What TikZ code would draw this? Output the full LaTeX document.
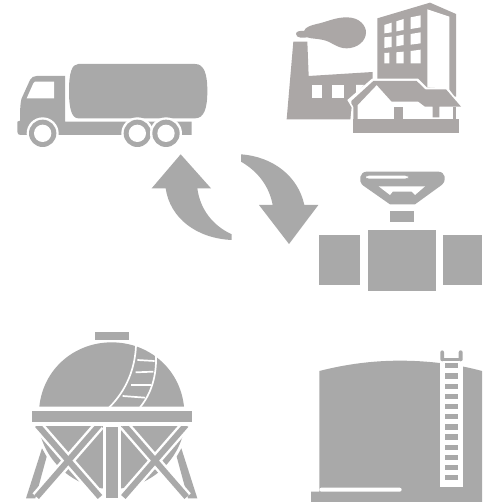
\documentclass[tikz,border=0pt]{standalone}
\definecolor{gr}{HTML}{A9A9A9}
\definecolor{fac}{HTML}{ABA7A6}
\tikzset{g/.style={fill=gr,draw=none},w/.style={fill=white,draw=none},f/.style={fill=fac,draw=none},
 zoom/.style={shift={#1},scale=0.33333}}
\begin{document}
\begin{tikzpicture}[x=1pt,y=-1pt]
\useasboundingbox (0,0) rectangle (482,502);
\fill[white] (0,0) rectangle (482,502);
% truck
\begin{scope}[zoom={(0,50)}]
\fill[g] (235,42) -- (585,42) .. controls (612,42) and (622,70) .. (622,123) .. controls (622,176) and (612,205) .. (585,205) -- (235,205) .. controls (215,205) and (207,176) .. (207,123) .. controls (207,70) and (215,42) .. (235,42) -- cycle;
\fill[g] (195,78) -- (110,78) .. controls (100,78) and (95,82) .. (90,90) -- (65,145) .. controls (60,160) and (60,190) .. (60,212) -- (52,215) -- (52,245) .. controls (52,252) and (56,255) .. (62,255) -- (575,255) -- (575,215) -- (195,215) -- cycle;
\fill[w] (105,95) -- (162,95) -- (162,145) -- (80,145) -- (100,100) -- cycle;
\foreach \c in {128,412,498}{
 \fill[w] (\c,250) circle (48);
 \fill[g] (\c,250) circle (41);
 \fill[w] (\c,250) circle (26);
}
\end{scope}
% factory
\begin{scope}[zoom={(280,0)}]
\fill[f] (292,55) -- (450,8) -- (528,42) -- (528,290) -- (292,290) -- cycle;
\fill[w] (442,28) -- (508,50) -- (508,285) -- (495,265) -- (442,262) -- cycle;
\fill[w] (313,75) -- (335,68) -- (335,97) -- (313,100) -- cycle;
\fill[w] (349,64) -- (371,57) -- (371,90) -- (349,94) -- cycle;
\fill[w] (392,52) -- (422,46) -- (422,82) -- (392,87) -- cycle;
\fill[w] (313,112) -- (335,110) -- (335,141) -- (313,144) -- cycle;
\fill[w] (349,108) -- (371,104) -- (371,135) -- (349,139) -- cycle;
\fill[w] (392,102) -- (422,97) -- (422,130) -- (392,134) -- cycle;
\fill[w] (313,159) -- (328,158) -- (328,190) -- (313,190) -- cycle;
\fill[w] (349,157) -- (371,155) -- (371,190) -- (349,190) -- cycle;
\fill[w] (392,153) -- (422,149) -- (422,190) -- (392,190) -- cycle;
\fill[f] (40,125) -- (82,125) -- (86,228) -- (278,216) -- (278,300) -- (215,358) -- (20,358) -- cycle;
\fill[w] (97,255) rectangle (127,293);
\fill[w] (155,255) rectangle (191,293);
\fill[w] (228,255) -- (252,255) -- (228,282) -- cycle;
\fill[f] (48,102) .. controls (48,94) and (58,92) .. (72,93) .. controls (76,80) and (95,76) .. (110,72) .. controls (140,66) and (165,52) .. (200,52) .. controls (240,52) and (258,78) .. (258,97) .. controls (258,125) and (230,145) .. (200,145) .. controls (170,145) and (155,125) .. (130,120) .. controls (110,115) and (95,117) .. (82,112) .. controls (70,114) and (48,115) .. (48,102) -- cycle;
% house
\fill[w] (202,300) -- (276,236) -- (414,236) -- (440,262) -- (502,262) -- (552,326) -- (538,358) -- (210,370) -- (215,322) -- cycle;
\fill[f] (214,303) -- (280,243) -- (410,243) -- (436,268) -- (498,268) -- (543,320) -- (478,320) -- (478,352) -- (458,352) -- (458,320) -- (435,320) -- (415,305) -- (335,305) -- (290,255) -- (233,315) -- (233,358) -- (220,358) -- (220,320) -- (214,310) -- cycle;
\fill[f] (343,320) rectangle (370,358);
\fill[f] (520,320) rectangle (527,358);
\fill[f] (220,358) rectangle (538,398);
\end{scope}
% arrows and valve
\begin{scope}[zoom={(140,145)}]
\fill[g] (122,28) -- (213,130) -- (172,130) .. controls (180,190) and (215,240) .. (275,268) -- (275,285) .. controls (170,280) and (90,220) .. (77,130) -- (35,130) -- cycle;
\fill[g] (303,28) .. controls (400,35) and (475,95) .. (493,180) -- (535,180) -- (447,297) -- (357,180) -- (398,180) .. controls (388,125) and (355,80) .. (303,50) -- cycle;
\fill[g] (680,80) -- (895,80) .. controls (915,80) and (922,105) .. (905,120) -- (825,178) -- (750,178) -- (670,122) .. controls (652,108) and (660,80) .. (680,80) -- cycle;
\fill[w,rounded corners=3pt] (678,92) rectangle (804,101);
\fill[w] (716,124) -- (855,124) -- (825,150) -- (815,140) -- (758,140) -- (750,150) -- cycle;
\fill[g] (750,198) rectangle (822,232);
\fill[g] (684,255) rectangle (888,438);
\fill[g] (537,270) rectangle (661,420);
\fill[g] (909,270) rectangle (1026,420);
\end{scope}
% sphere
\begin{scope}[zoom={(20,325)}]
\fill[g] (224,22) rectangle (326,46);
\fill[g] (58,245) .. controls (70,130) and (165,52) .. (275,52) .. controls (385,52) and (480,130) .. (492,245) -- cycle;
\draw[white,line width=1.7pt] (348,62) .. controls (345,130) and (320,195) .. (268,247);
\draw[white,line width=1.7pt] (408,92) .. controls (410,150) and (395,205) .. (360,247);
\foreach \a/\b/\c/\d in {352/105/404/108, 347/142/400/140, 334/180/392/180, 308/213/375/218}
 \draw[white,line width=1.7pt] (\a,\b) -- (\c,\d);
\begin{scope}
\clip (40,295) rectangle (510,490);
\fill[g] (275,270) circle (222);
\end{scope}
\fill[g] (18,520) -- (66,370) -- (80,395) -- (46,520) -- cycle;
\fill[g] (532,520) -- (484,370) -- (470,395) -- (504,520) -- cycle;
\foreach \a/\b/\c/\d in {52/300/240/516, 238/300/50/516, 312/300/500/516, 498/300/310/516}
 \draw[white,line width=11pt] (\a,\b) -- (\c,\d);
\fill[w] (248,290) rectangle (303,502);
\foreach \a/\b/\c/\d in {52/300/240/516, 238/300/50/516, 312/300/500/516, 498/300/310/516}
 \draw[gr,line width=6pt] (\a,\b) -- (\c,\d);
\fill[g] (258,305) rectangle (293,520);
\fill[w] (20,290) rectangle (530,303);
\fill[g] (35,257) rectangle (515,290);
\end{scope}
% storage tank
\begin{scope}[zoom={(300,340)}]
\fill[g] (58,93) .. controls (140,72) and (220,62) .. (300,62) .. controls (380,62) and (470,72) .. (546,93) -- (546,486) -- (33,486) -- (33,455) -- (58,455) -- cycle;
\fill[w,rounded corners=2pt] (58,443) rectangle (305,455);
\fill[w] (421,50) rectangle (488,440);
\fill[g,rounded corners=2pt] (421,31) rectangle (432,64);
\fill[g,rounded corners=2pt] (476,31) rectangle (488,64);
\fill[g] (430,55) rectangle (478,62);
\foreach \y in {69,100,131,161,192,222,253,283,314,344,375,405}
 \fill[g] (436,\y) rectangle (475,\y+16);
\end{scope}
\end{tikzpicture}
\end{document}
